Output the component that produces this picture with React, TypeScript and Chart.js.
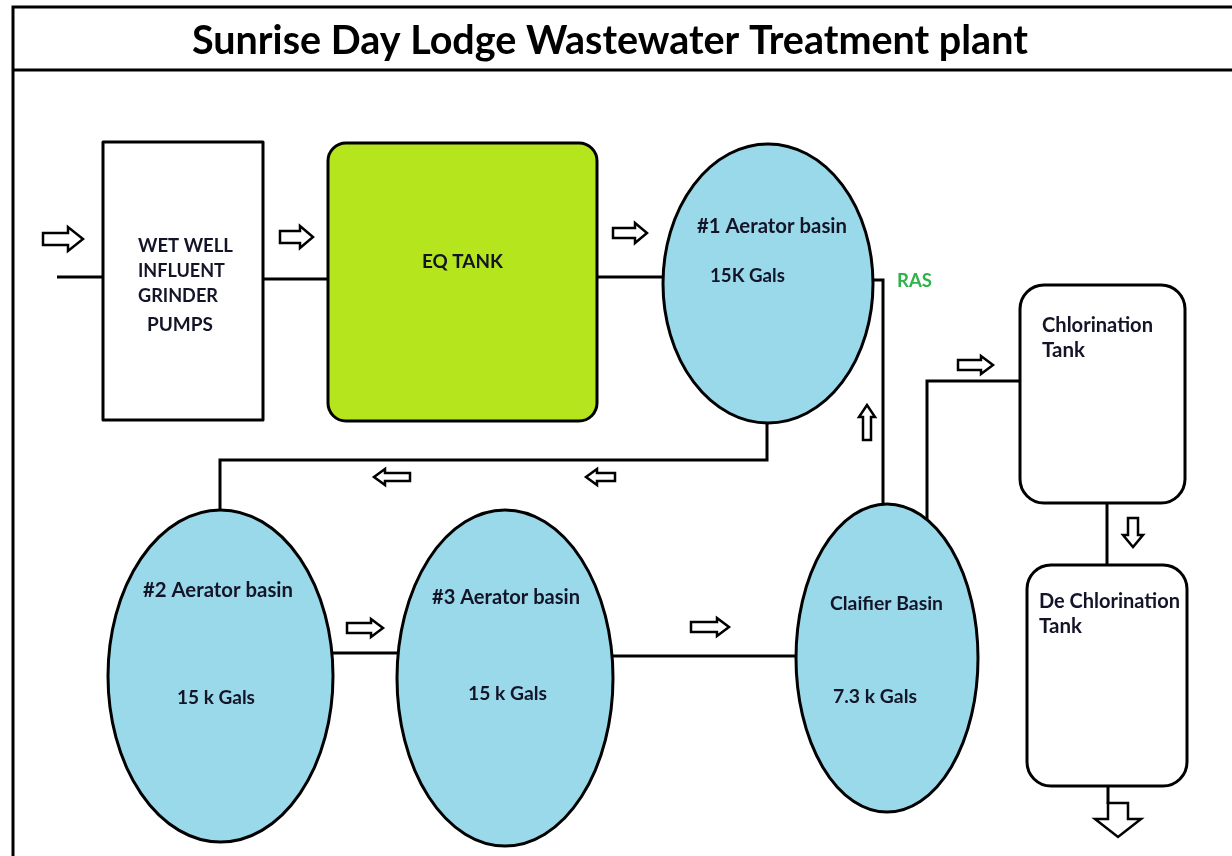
import { useEffect, useRef } from "react";
import { Chart, registerables } from "chart.js";

Chart.register(...registerables);

// ---- Diagram data (diagram coordinate space: 0..1232 x 0..856, y downward) ----
const titleText = "Sunrise Day Lodge Wastewater Treatment plant";

// Pipes: polylines of [x, y]
const framePipes: number[][][] = [
  [[1232, 7], [13, 7], [13, 856]],
  [[13, 70], [1232, 70]],
];
const pipes: number[][][] = [
  [[57, 277], [103, 277]],
  [[263, 279], [330, 279]],
  [[597, 277], [663, 277]],
  [[767, 423], [767, 460], [220, 460], [220, 512]],
  [[873, 280], [883, 280], [883, 507]],
  [[333, 653], [397, 653]],
  [[613, 656], [796, 656]],
  [[927, 519], [927, 381], [1020, 381]],
  [[1107, 503], [1107, 565]],
  [[1108, 786], [1108, 804]],
];

// Boxes: [left, top, right, bottom, radius, fill]
const boxNames = ["wetwell", "eq", "chlor", "dechlor"];
const boxGeom: number[][] = [
  [103, 142, 263, 420, 0],
  [328, 143, 597, 421, 18],
  [1020, 285, 1185, 503, 24],
  [1027, 565, 1187, 786, 24],
];
const boxFills = ["#ffffff", "#b5e61d", "#ffffff", "#ffffff"];

// Ellipses: [cx, cy, rx, ry]
const ellipseNames = ["aer1", "aer2", "aer3", "clar"];
const ellipseGeom: number[][] = [
  [768, 283.5, 105, 139.5],
  [220.5, 676, 112.5, 166],
  [505, 678, 108, 168],
  [887, 658, 91, 154],
];
const ellipseFill = "#99d9ea";

// Arrows: [tailX, tailY, tipX, tipY, shaftHalf, headHalf, headLen]
const arrows: number[][] = [
  [43, 239, 83, 239, 6, 12, 15],
  [280, 237, 313, 237, 6, 11, 13],
  [613, 233, 647, 233, 5, 10, 12],
  [410, 477, 374, 477, 4, 8, 11],
  [615, 477, 586, 477, 4, 8, 11],
  [867, 440, 867, 405, 4, 8, 12],
  [347, 628, 383, 628, 5, 9, 12],
  [691, 627, 729, 627, 5, 9, 12],
  [958, 365, 993, 365, 5, 9, 12],
  [1133, 518, 1133, 547, 5, 10, 12],
  [1118, 803, 1118, 837, 10, 23, 18],
];

// Labels: text, left x, baseline y, width
const labelTexts = [
  "WET WELL", "INFLUENT", "GRINDER", "PUMPS",
  "EQ TANK",
  "#1 Aerator basin", "15K Gals",
  "RAS",
  "Chlorination", "Tank",
  "De Chlorination", "Tank",
  "#2 Aerator basin", "15 k Gals",
  "#3 Aerator basin", "15 k Gals",
  "Claifier Basin", "7.3 k Gals",
];
const labelPos: number[][] = [
  [138, 252, 95], [138, 277, 87], [138, 302, 80], [147, 331, 66],
  [422, 268, 81],
  [697, 233, 150], [710, 282, 75],
  [897, 287, 35],
  [1042, 332, 111], [1042, 357, 43],
  [1039, 608, 141], [1039, 633, 43],
  [143, 597, 150], [177, 704, 78],
  [432, 604, 148], [468, 700, 79],
  [830, 610, 113], [833, 703, 84],
];
const labelColors = labelTexts.map((t) => (t === "RAS" ? "#2fb34a" : "#141428"));

const FONT = "Lato, 'Open Sans', sans-serif";

function fitFont(ctx: CanvasRenderingContext2D, text: string, width: number) {
  ctx.font = `bold 20px ${FONT}`;
  const w = ctx.measureText(text).width;
  const size = (20 * width) / w;
  ctx.font = `bold ${size.toFixed(2)}px ${FONT}`;
}

const diagramPlugin = {
  id: "diagram",
  afterDatasetsDraw(chart: any) {
    const ctx: CanvasRenderingContext2D = chart.ctx;
    const xs = chart.scales.x;
    const ys = chart.scales.y;
    const X = (v: number) => xs.getPixelForValue(v);
    const Y = (v: number) => ys.getPixelForValue(v);
    ctx.save();
    ctx.lineWidth = 3;
    ctx.strokeStyle = "#000";
    ctx.lineJoin = "round";

    // boxes
    boxGeom.forEach((g, i) => {
      const [l, t, r, b, rad] = g;
      const x0 = X(l), y0 = Y(t), x1 = X(r), y1 = Y(b);
      ctx.beginPath();
      if (rad > 0) ctx.roundRect(x0, y0, x1 - x0, y1 - y0, rad);
      else ctx.rect(x0, y0, x1 - x0, y1 - y0);
      ctx.fillStyle = boxFills[i];
      ctx.fill();
      ctx.stroke();
    });

    // ellipses
    ellipseGeom.forEach((g) => {
      const [cx, cy, rx, ry] = g;
      ctx.beginPath();
      ctx.ellipse(X(cx), Y(cy), Math.abs(X(cx + rx) - X(cx)), Math.abs(Y(cy + ry) - Y(cy)), 0, 0, Math.PI * 2);
      ctx.fillStyle = ellipseFill;
      ctx.fill();
      ctx.stroke();
    });

    // arrows
    ctx.lineWidth = 2.5;
    ctx.lineJoin = "miter";
    arrows.forEach((a) => {
      const [tx, ty, px, py, sh, hh, hl] = a;
      const x0 = X(tx), y0 = Y(ty), x1 = X(px), y1 = Y(py);
      const len = Math.hypot(x1 - x0, y1 - y0);
      const ang = Math.atan2(y1 - y0, x1 - x0);
      ctx.save();
      ctx.translate(x0, y0);
      ctx.rotate(ang);
      ctx.beginPath();
      ctx.moveTo(0, -sh);
      ctx.lineTo(len - hl, -sh);
      ctx.lineTo(len - hl, -hh);
      ctx.lineTo(len, 0);
      ctx.lineTo(len - hl, hh);
      ctx.lineTo(len - hl, sh);
      ctx.lineTo(0, sh);
      ctx.closePath();
      ctx.fillStyle = "#fff";
      ctx.fill();
      ctx.stroke();
      ctx.restore();
    });

    // labels
    ctx.textBaseline = "alphabetic";
    ctx.textAlign = "left";
    labelTexts.forEach((t, i) => {
      const [lx, by, w] = labelPos[i];
      fitFont(ctx, t, X(lx + w) - X(lx));
      ctx.fillStyle = labelColors[i];
      ctx.fillText(t, X(lx), Y(by));
    });

    // title
    fitFont(ctx, titleText, X(1028) - X(192));
    ctx.fillStyle = "#000";
    ctx.fillText(titleText, X(192), Y(54));
    ctx.restore();
  },
};

export default function App() {
  const ref = useRef<HTMLCanvasElement | null>(null);
  useEffect(() => {
    if (!ref.current) return;
    const mk = (poly: number[][], w: number) => ({
      data: poly.map(([x, y]) => ({ x, y })),
      showLine: true,
      borderColor: "#000",
      borderWidth: w,
      pointRadius: 0,
      fill: false,
      tension: 0,
    });
    const chart = new Chart(ref.current, {
      type: "scatter",
      data: {
        datasets: [...framePipes.map((p) => mk(p, 3)), ...pipes.map((p) => mk(p, 3))] as any,
      },
      options: {
        animation: false,
        responsive: false,
        maintainAspectRatio: false,
        layout: { padding: 0 },
        plugins: { legend: { display: false }, tooltip: { enabled: false }, title: { display: false } },
        events: [],
        scales: {
          x: { type: "linear", min: 0, max: 1232, display: false },
          y: { type: "linear", min: 0, max: 856, reverse: true, display: false },
        },
        elements: { line: { capBezierPoints: false, borderJoinStyle: "miter" as any } },
      },
      plugins: [diagramPlugin],
    });
    return () => chart.destroy();
  }, []);
  return (
    <div style={{ position: "fixed", left: 0, top: 0, width: 1232, height: 856, background: "#fff" }}>
      <canvas ref={ref} width={1232} height={856} style={{ display: "block" }} />
    </div>
  );
}
